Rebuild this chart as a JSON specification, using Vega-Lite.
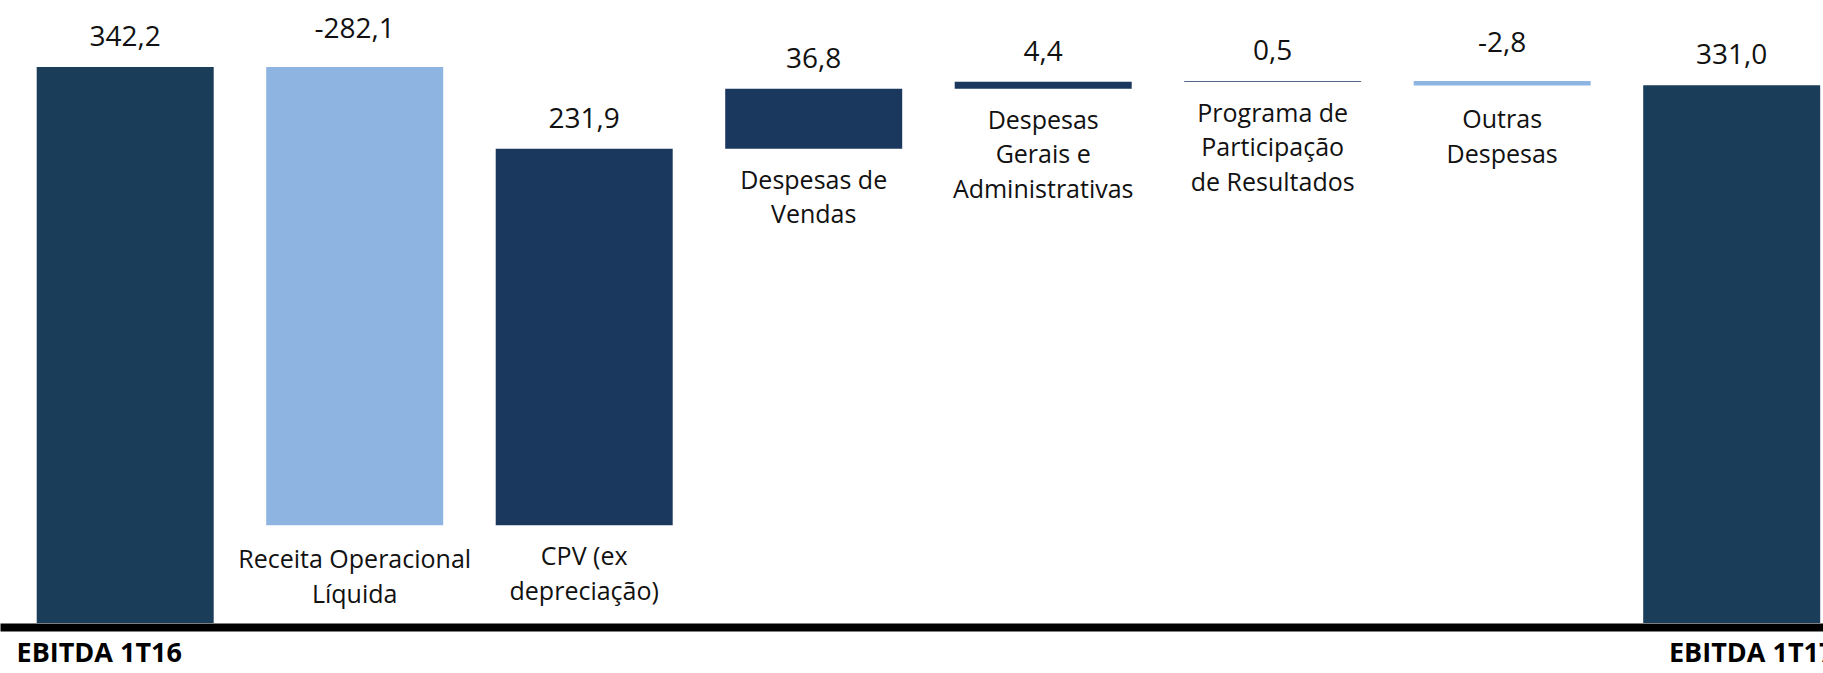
{
  "$schema": "https://vega.github.io/schema/vega-lite/v6.json",
  "width": 1823,
  "height": 623,
  "autosize": {"type": "none"},
  "padding": {"left": 0, "right": 0, "top": 0, "bottom": 50},
  "background": "white",
  "config": {"view": {"stroke": null}},
  "data": {
    "values": [
      {"cat": "EBITDA 1T16", "kind": "total", "start": 0, "end": 342.2, "vlabel": "342,2", "label": []},
      {"cat": "Receita Operacional Líquida", "kind": "dec", "start": 342.2, "end": 60.1, "vlabel": "-282,1", "label": ["Receita Operacional", "Líquida"]},
      {"cat": "CPV (ex depreciação)", "kind": "inc", "start": 60.1, "end": 292.0, "vlabel": "231,9", "label": ["CPV (ex", "depreciação)"]},
      {"cat": "Despesas de Vendas", "kind": "inc", "start": 292.0, "end": 328.8, "vlabel": "36,8", "label": ["Despesas de", "Vendas"]},
      {"cat": "Despesas Gerais e Administrativas", "kind": "inc", "start": 328.8, "end": 333.2, "vlabel": "4,4", "label": ["Despesas", "Gerais e", "Administrativas"]},
      {"cat": "Programa de Participação de Resultados", "kind": "inc", "start": 333.2, "end": 333.7, "vlabel": "0,5", "label": ["Programa de", "Participação", "de Resultados"]},
      {"cat": "Outras Despesas", "kind": "dec", "start": 333.7, "end": 330.9, "vlabel": "-2,8", "label": ["Outras", "Despesas"]},
      {"cat": "EBITDA 1T17", "kind": "total", "start": 0, "end": 331.0, "vlabel": "331,0", "label": []}
    ]
  },
  "encoding": {
    "x": {
      "field": "cat",
      "type": "nominal",
      "sort": null,
      "title": null,
      "scale": {"type": "band", "paddingInner": 0.2288, "paddingOuter": 0.0861, "align": 0.929, "round": false},
      "axis": {
        "orient": "bottom",
        "domain": true,
        "domainColor": "#000000",
        "domainWidth": 8,
        "offset": 4,
        "ticks": false,
        "grid": false,
        "labelAngle": 0,
        "labelExpr": "datum.value == 'EBITDA 1T16' || datum.value == 'EBITDA 1T17' ? datum.value : ''",
        "labelFont": "Open Sans",
        "labelFontWeight": "bold",
        "labelFontSize": 27,
        "labelColor": "#000000",
        "labelBaseline": "top",
        "labelPadding": 13,
        "labelOffset": {"condition": {"test": "datum.value == 'EBITDA 1T16'", "value": -26}, "value": 20},
        "labelOverlap": false,
        "labelBound": false,
        "labelFlush": false,
        "labelLimit": 0
      }
    }
  },
  "layer": [
    {
      "mark": {"type": "bar"},
      "encoding": {
        "y": {"field": "end", "type": "quantitative", "scale": {"domain": [0, 383.5], "nice": false, "zero": false}, "axis": null, "title": null},
        "y2": {"field": "start"},
        "color": {
          "field": "kind",
          "type": "nominal",
          "legend": null,
          "scale": {"domain": ["total", "inc", "dec"], "range": ["#1a3d5a", "#1a375e", "#8eb4e2"]}
        }
      }
    },
    {
      "transform": [{"filter": "datum.kind != 'dec'"}],
      "mark": {"type": "text", "align": "center", "baseline": "alphabetic", "dy": -21, "font": "Open Sans", "fontSize": 28, "color": "#111111"},
      "encoding": {
        "y": {"field": "end", "type": "quantitative", "scale": {"domain": [0, 383.5], "nice": false, "zero": false}, "axis": null},
        "text": {"field": "vlabel"}
      }
    },
    {
      "transform": [{"filter": "datum.kind == 'dec'"}],
      "mark": {"type": "text", "align": "center", "baseline": "alphabetic", "dy": -29, "font": "Open Sans", "fontSize": 28, "color": "#111111"},
      "encoding": {
        "y": {"field": "start", "type": "quantitative", "scale": {"domain": [0, 383.5], "nice": false, "zero": false}, "axis": null},
        "text": {"field": "vlabel"}
      }
    },
    {
      "transform": [{"filter": "datum.kind == 'inc'"}],
      "mark": {"type": "text", "align": "center", "baseline": "top", "dy": 20, "font": "Open Sans", "fontSize": 25, "lineHeight": 34.5, "color": "#111111"},
      "encoding": {
        "y": {"field": "start", "type": "quantitative", "scale": {"domain": [0, 383.5], "nice": false, "zero": false}, "axis": null},
        "text": {"field": "label"}
      }
    },
    {
      "transform": [{"filter": "datum.kind == 'dec'"}],
      "mark": {"type": "text", "align": "center", "baseline": "top", "dy": 23, "font": "Open Sans", "fontSize": 25, "lineHeight": 34.5, "color": "#111111"},
      "encoding": {
        "y": {"field": "end", "type": "quantitative", "scale": {"domain": [0, 383.5], "nice": false, "zero": false}, "axis": null},
        "text": {"field": "label"}
      }
    }
  ]
}
